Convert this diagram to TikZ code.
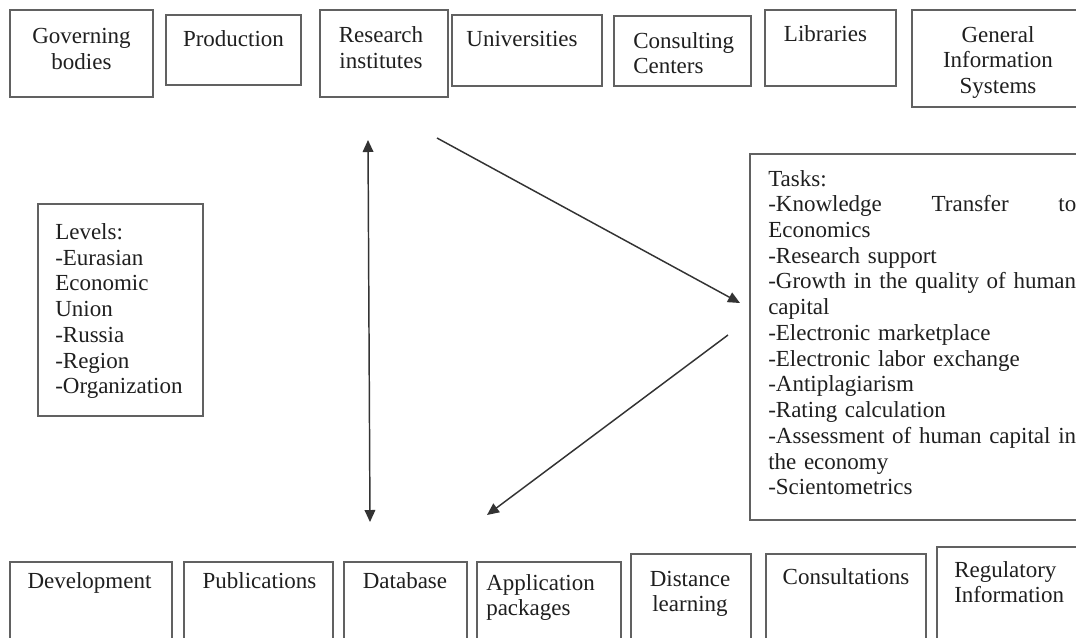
\documentclass[tikz,border=0pt]{standalone}
\usepackage{fontspec}
\setmainfont{Liberation Serif}
\usetikzlibrary{arrows.meta,fit}
\begin{document}
\begin{tikzpicture}[x=0.75pt,y=-0.75pt,
  box/.style={draw=black!62, line width=1.1pt, inner sep=0pt},
  txt/.style={font=\fontsize{17.25}{19.3}\selectfont, inner sep=0pt, text=black!88},
  ctxt/.style={txt, align=center, text width=150pt, anchor=base},
  ltxt/.style={txt, align=left, text width=150pt, anchor=base west},
  arr/.style={draw=black!80, line width=1.1pt, -{Triangle[length=9pt,width=8pt]}},
  darr/.style={draw=black!80, line width=1.1pt, {Triangle[length=9pt,width=8pt]}-{Triangle[length=9pt,width=8pt]}}]
\useasboundingbox (0,0) rectangle (1076,637);
\fill[white] (0,0) rectangle (1076,637);
% top row
\node[box, fit={(10,10) (153,97)}] (gov) {};
\node[box, fit={(166,15) (301,85)}] (prod) {};
\node[box, fit={(320,10) (448,97)}] (res) {};
\node[box, fit={(452,15) (602,86)}] (uni) {};
\node[box, fit={(614,16) (751,86)}] (cons) {};
\node[box, fit={(765,10) (896,86)}] (lib) {};
\node[box, fit={(912,10) (1085,107)}] (gis) {};
\node[ctxt] (govt) at (81.5,43.5) {Governing\\bodies};
\node[ctxt] (prodt) at (233.5,46.5) {Production};
\node[ctxt] (rest) at (381,42.4) {Research\\institutes};
\node[ctxt] (unit) at (522,46) {Universities};
\node[ltxt] (const) at (633,48) {Consulting\\Centers};
\node[ctxt] (libt) at (825.5,41.8) {Libraries};
\node[ctxt] (gist) at (998,42) {General\\Information\\Systems};
% middle
\node[box, fit={(38,204) (203,416)}] (lev) {};
\node[ltxt] (levt) at (55,239.5) {Levels:\\-Eurasian\\Economic\\Union\\-Russia\\-Region\\-Organization};
\node[box, fit={(750,154) (1085,520)}] (tasks) {};
\node[ltxt, text width=231pt] (taskst) at (768,186) {Tasks:\\-Knowledge\hfill Transfer\hfill to\\Economics\\-Research support\\-Growth in the quality of human\\capital\\-Electronic marketplace\\-Electronic labor exchange\\-Antiplagiarism\\-Rating calculation\\-Assessment of human capital in\\the economy\\-Scientometrics};
% bottom row
\node[box, fit={(10,562) (172,650)}] (dev) {};
\node[box, fit={(184,562) (333,650)}] (pub) {};
\node[box, fit={(344,562) (467,650)}] (db) {};
\node[box, fit={(477,562) (621,650)}] (app) {};
\node[box, fit={(631,554) (751,650)}] (dist) {};
\node[box, fit={(766,554) (926,650)}] (consu) {};
\node[box, fit={(937,547) (1085,650)}] (reg) {};
\node[ctxt] (devt) at (89.5,588) {Development};
\node[ctxt] (pubt) at (259.5,588) {Publications};
\node[ctxt] (dbt) at (405,588) {Database};
\node[ltxt] (appt) at (486,590) {Application\\packages};
\node[ctxt] (distt) at (690,586) {Distance\\learning};
\node[ctxt] (consut) at (846,584) {Consultations};
\node[ltxt] (regt) at (954,577) {Regulatory\\Information};
% connectors
\coordinate (vt) at (368,140);
\coordinate (vb) at (370,522);
\coordinate (a1s) at (437,138);
\coordinate (a1e) at (740,303);
\coordinate (a2s) at (728,335);
\coordinate (a2e) at (487,515);
\draw[darr] (vt) -- (vb);
\draw[arr] (a1s) -- (a1e);
\draw[arr] (a2s) -- (a2e);
\end{tikzpicture}
\end{document}
